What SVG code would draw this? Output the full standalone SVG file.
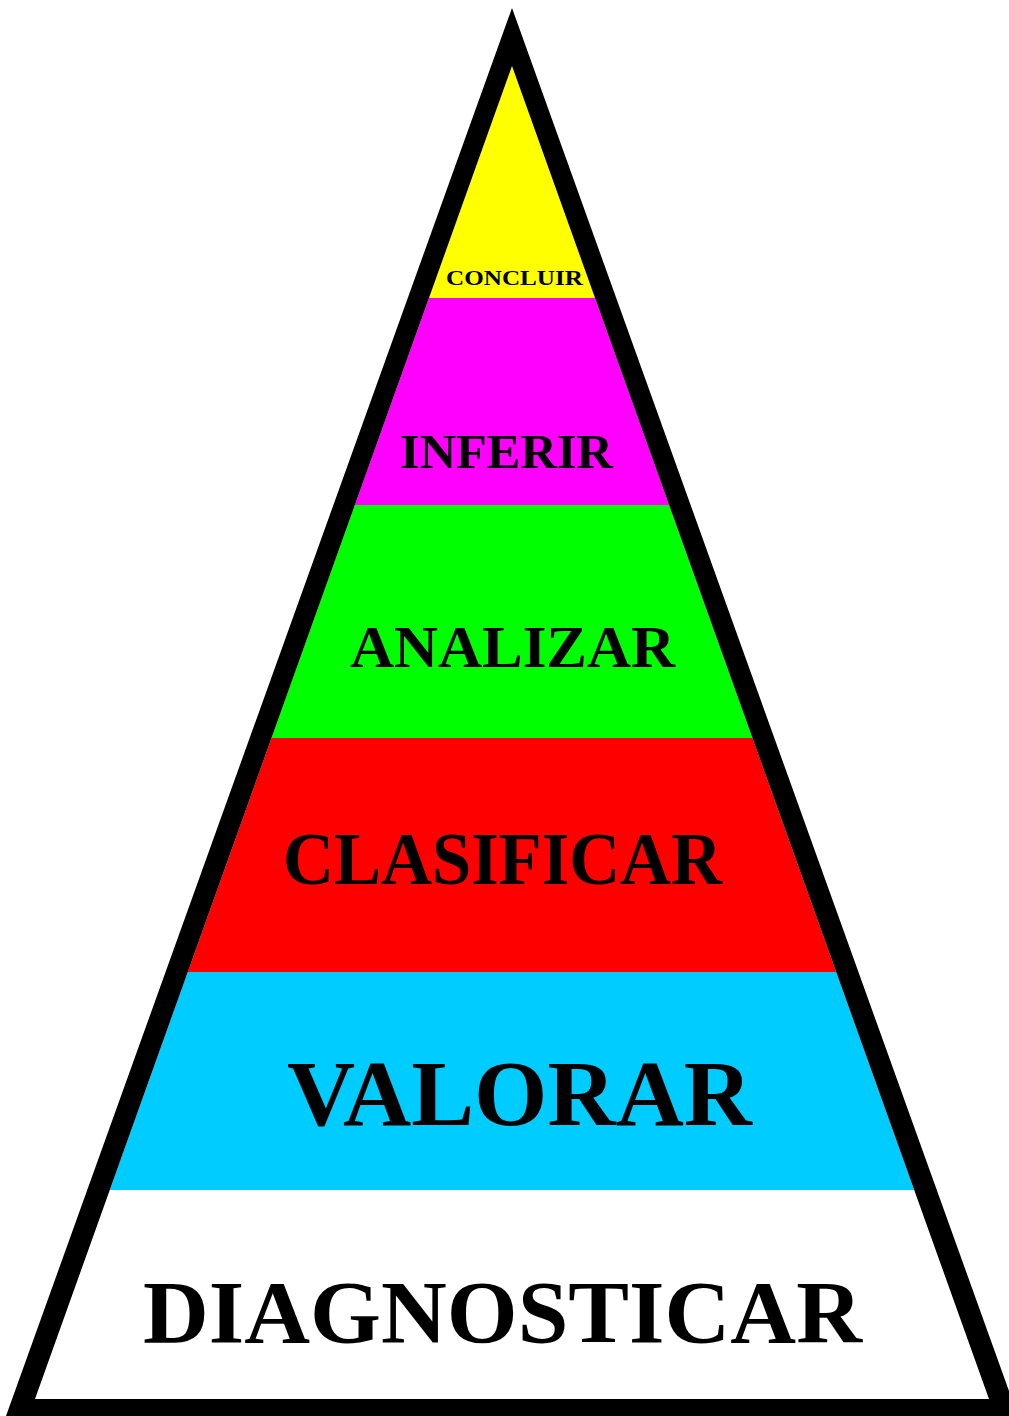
<svg xmlns="http://www.w3.org/2000/svg" width="1009" height="1416" viewBox="0 0 1009 1416">
  <defs>
    <clipPath id="inner">
      <polygon points="512,66 35,1399 989,1399"/>
    </clipPath>
  </defs>
  <style>
    .lbl { font-family: "Liberation Serif", "Times New Roman", serif; font-weight: bold; fill: #000; text-anchor: start; }
  </style>
  <rect x="0" y="0" width="1009" height="1416" fill="#ffffff"/>
  <g clip-path="url(#inner)">
    <g id="concluir">
      <rect x="0" y="0" width="1009" height="298" fill="#ffff00"/>
      <text class="lbl" x="446" y="285" font-size="22" textLength="137" lengthAdjust="spacingAndGlyphs">CONCLUIR</text>
    </g>
    <g id="inferir">
      <rect x="0" y="298" width="1009" height="207" fill="#ff00ff"/>
      <text class="lbl" x="400" y="468" font-size="48" textLength="213" lengthAdjust="spacingAndGlyphs">INFERIR</text>
    </g>
    <g id="analizar">
      <rect x="0" y="505" width="1009" height="233" fill="#00ff00"/>
      <text class="lbl" x="350" y="667" font-size="60" textLength="325" lengthAdjust="spacingAndGlyphs">ANALIZAR</text>
    </g>
    <g id="clasificar">
      <rect x="0" y="738" width="1009" height="234" fill="#ff0000"/>
      <text class="lbl" x="283" y="884" font-size="73" textLength="439" lengthAdjust="spacingAndGlyphs">CLASIFICAR</text>
    </g>
    <g id="valorar">
      <rect x="0" y="972" width="1009" height="218" fill="#00ccff"/>
      <text class="lbl" x="287" y="1125" font-size="93" textLength="465" lengthAdjust="spacingAndGlyphs">VALORAR</text>
    </g>
    <g id="diagnosticar">
      <rect x="0" y="1190" width="1009" height="226" fill="#ffffff"/>
      <text class="lbl" x="143" y="1342" font-size="89" textLength="719" lengthAdjust="spacingAndGlyphs">DIAGNOSTICAR</text>
    </g>
  </g>
  <g id="connectors">
    <path id="frame" fill="#000" fill-rule="evenodd" d="M512,8 L6,1416 L1018,1416 Z M512,66 L35,1399 L989,1399 Z"/>
  </g>
</svg>
